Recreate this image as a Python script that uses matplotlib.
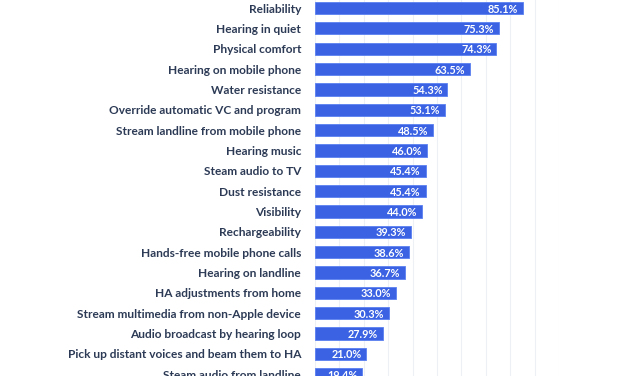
import matplotlib
matplotlib.use("Agg")
import matplotlib.pyplot as plt

categories = [
    "Reliability",
    "Hearing in quiet",
    "Physical comfort",
    "Hearing on mobile phone",
    "Water resistance",
    "Override automatic VC and program",
    "Stream landline from mobile phone",
    "Hearing music",
    "Steam audio to TV",
    "Dust resistance",
    "Visibility",
    "Rechargeability",
    "Hands-free mobile phone calls",
    "Hearing on landline",
    "HA adjustments from home",
    "Stream multimedia from non-Apple device",
    "Audio broadcast by hearing loop",
    "Pick up distant voices and beam them to HA",
    "Steam audio from landline",
]
values = [85.1, 75.3, 74.3, 63.5, 54.3, 53.1, 48.5, 46.0, 45.4, 45.4, 44.0,
          39.3, 38.6, 36.7, 33.0, 30.3, 27.9, 21.0, 19.4]
value_labels = [f"{v:.1f}%" for v in values]
xticks = list(range(0, 101, 10))

fig = plt.figure(figsize=(6.27, 3.76), dpi=100)
ax = fig.add_axes([315 / 627, 0, (559 - 315) / 627, 1])

ypos = list(range(len(categories)))
ax.barh(ypos, values, height=0.6, color="#3a62e2", edgecolor="#5a7ff0",
        linewidth=0.6, zorder=2)

for y, v, lab in zip(ypos, values, value_labels):
    ax.text(v - 2.0, y + 0.05, lab, ha="right", va="center", color="white",
            fontsize=7.8, fontweight="bold", family="Lato", zorder=3)

ax.set_xlim(0, 100)
ax.set_ylim((376 - 8) / 20.35, -8 / 20.35)
ax.set_xticks(xticks)
ax.xaxis.grid(True, color="#edf1f5", linewidth=0.8, zorder=0)
ax.tick_params(axis="x", length=0, labelbottom=False)
ax.set_yticks(ypos)
ax.set_yticklabels(categories, fontsize=8.6, fontweight="bold", family="Lato",
                   color="#2c3a55")
ax.tick_params(axis="y", length=0, pad=10)
for s in ax.spines.values():
    s.set_visible(False)

fig.savefig("out.png", dpi=100, facecolor="white")
